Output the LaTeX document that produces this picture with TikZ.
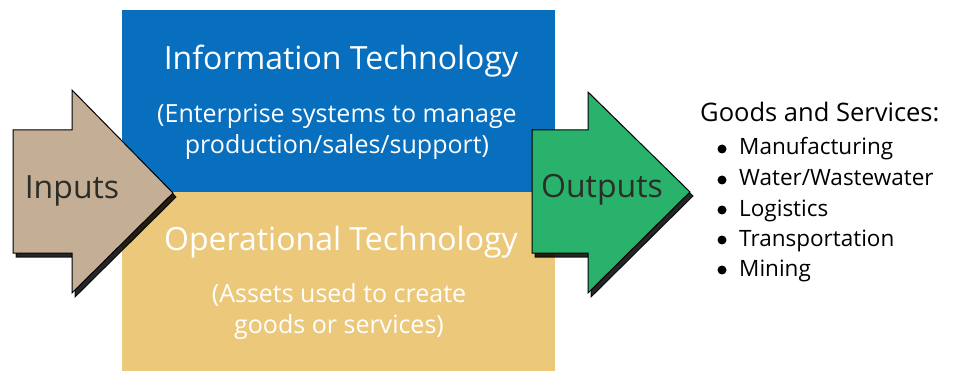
\documentclass[tikz,border=0pt]{standalone}
\usepackage{fontspec}
\setmainfont{Open Sans}
\definecolor{itblue}{RGB}{8,110,190}
\definecolor{otyellow}{RGB}{236,200,122}
\definecolor{intan}{RGB}{196,175,150}
\definecolor{outgreen}{RGB}{40,178,108}
\definecolor{txtdark}{RGB}{45,45,40}
\tikzset{
  bigarrow/.style={draw=black, line width=1pt, line join=miter},
  arrowshadow/.style={fill=black, draw=black, line width=1pt, opacity=0.85},
  boxtitle/.style={text=white, font=\fontsize{32}{36}\selectfont, inner sep=0pt},
  boxsub/.style={text=white, font=\fontsize{25}{31}\selectfont, align=center, inner sep=0pt},
  arrowlabel/.style={text=txtdark, font=\fontsize{32}{36}\selectfont, inner sep=0pt},
  listhead/.style={text=black, font=\fontsize{25.5}{28}\selectfont, inner sep=0pt, anchor=base west},
  listtext/.style={text=black, font=\fontsize{22.5}{26}\selectfont, inner sep=0pt, anchor=base west},
  bulletdot/.style={circle, fill=black, inner sep=0pt, minimum size=9pt}
}
\begin{document}
\begin{tikzpicture}[x=1pt, y=-1pt]
\useasboundingbox (0,0) rectangle (957,371);
\fill[white] (0,0) rectangle (957,371);
% boxes
\fill[itblue] (122,10) rectangle (555,192);
\fill[otyellow] (122,192) rectangle (555,371);
\node[boxtitle] (ittitle) at (341,61) {Information Technology};
\node[boxsub] (itsub) at (337,132) {(Enterprise systems to manage\\production/sales/support)};
\node[boxtitle] (ottitle) at (341,242) {Operational Technology};
\node[boxsub] (otsub) at (339,312) {(Assets used to create\\goods or services)};
% Inputs arrow
\fill[arrowshadow] (16,134) -- (75,134) -- (75,94) -- (176,197) -- (75,297) -- (75,257) -- (16,257) -- cycle;
\filldraw[bigarrow, fill=intan] (13,130) -- (72,130) -- (72,90) -- (173,193) -- (72,293) -- (72,253) -- (13,253) -- cycle;
\node[arrowlabel] (inputs) at (72,191) {Inputs};
% Outputs arrow
\fill[arrowshadow] (535,134) -- (591,134) -- (591,96) -- (693,196) -- (591,297) -- (591,257) -- (535,257) -- cycle;
\filldraw[bigarrow, fill=outgreen] (532,130) -- (588,130) -- (588,92) -- (690,192) -- (588,293) -- (588,253) -- (532,253) -- cycle;
\node[arrowlabel] (outputs) at (602,190) {Outputs};
% list
\node[listhead] (goods) at (700,122) {Goods and Services:};
\foreach \name/\txt/\yy in {m/Manufacturing/155, w/Water\slash Wastewater/186, l/Logistics/216, t/Transportation/246, n/Mining/276}{
  \node[bulletdot] (b\name) at (722,\yy-6) {};
  \node[listtext] (i\name) at (739,\yy) {\txt};
}
\end{tikzpicture}
\end{document}
